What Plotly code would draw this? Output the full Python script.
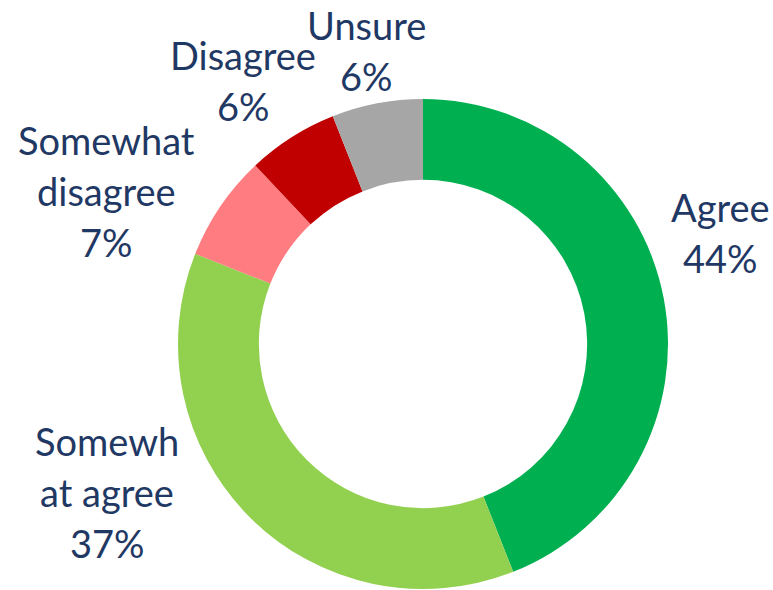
import plotly.graph_objects as go

categories = ["Agree", "Somewhat agree", "Somewhat disagree", "Disagree", "Unsure"]
values = [44, 37, 7, 6, 6]
display_labels = [["Agree"], ["Somewh", "at agree"], ["Somewhat", "disagree"], ["Disagree"], ["Unsure"]]
colors = ["#00B050", "#92D050", "#FF7C80", "#C00000", "#A6A6A6"]

W, H = 773, 590
cx, cy, R = 423, 344, 245
# label block anchors (center x, first-line y) in pixels
label_pos = [(720, 207), (107, 441), (106, 140), (243, 55), (366, 25)]
line_gap = 51
text_color = "#1F3864"
font_family = "Lato, 'Open Sans', sans-serif"
font_size = 38

fig = go.Figure(go.Pie(
    labels=categories,
    values=values,
    hole=0.67,
    sort=False,
    direction="clockwise",
    rotation=0,
    marker=dict(colors=colors, line=dict(width=0)),
    textinfo="none",
    hoverinfo="label+percent",
    domain=dict(x=[(cx - R) / W, (cx + R) / W], y=[(H - cy - R) / H, (H - cy + R) / H]),
    showlegend=False,
))

annotations = []
for lbl_lines, v, (px, py) in zip(display_labels, values, label_pos):
    lines = lbl_lines + [f"{v}%"]
    for i, t in enumerate(lines):
        annotations.append(dict(
            x=px / W, y=1 - (py + i * line_gap) / H, xref="paper", yref="paper",
            text=t, showarrow=False, xanchor="center", yanchor="middle",
            font=dict(family=font_family, size=font_size, color=text_color),
        ))

fig.update_layout(
    width=W, height=H,
    margin=dict(l=0, r=0, t=0, b=0),
    paper_bgcolor="white", plot_bgcolor="white",
    annotations=annotations,
)
fig.write_html(
    "out.html",
    config={"displayModeBar": False},
    post_script="document.body.style.margin='0';document.body.style.overflow='hidden';",
)
